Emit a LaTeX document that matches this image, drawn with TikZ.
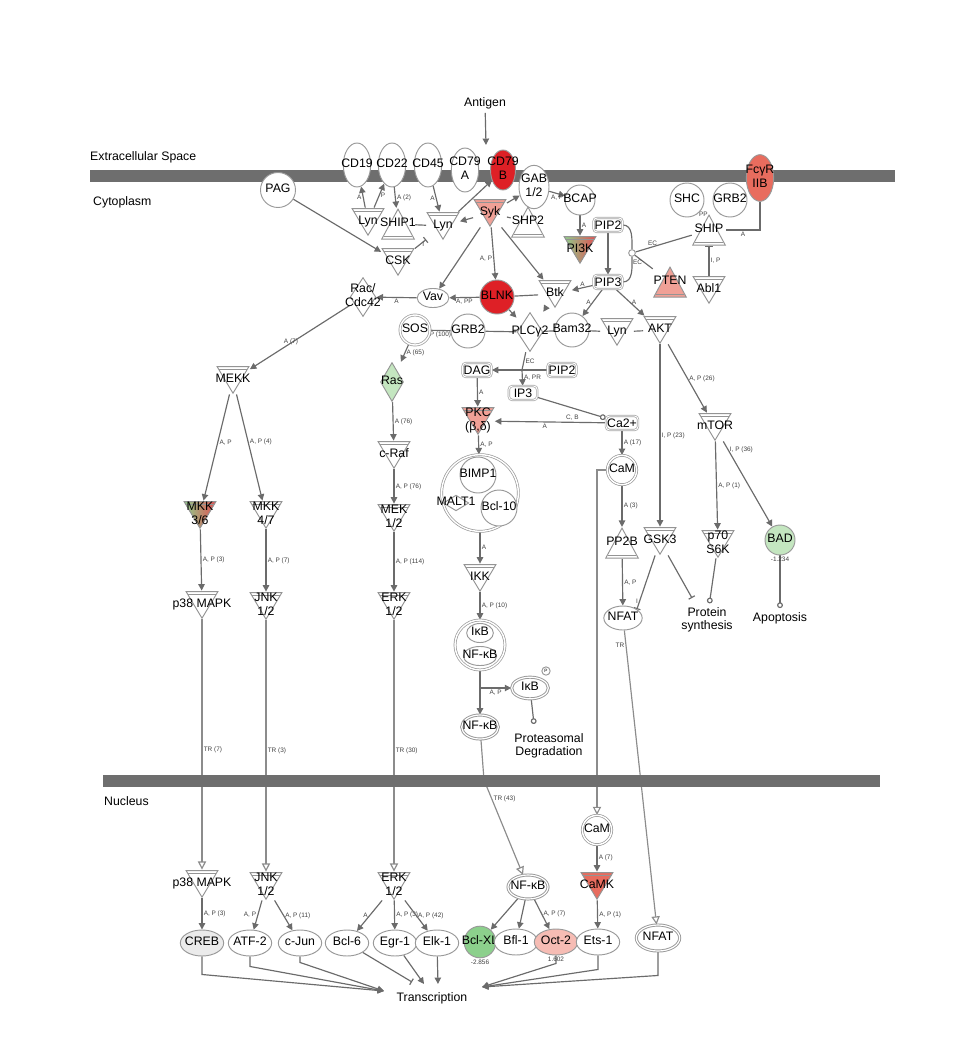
\documentclass[tikz,border=0pt]{standalone}
\usepackage{fontspec}
\setmainfont{Liberation Sans}
\usepackage{tikz}
\usetikzlibrary{arrows.meta,positioning,shapes.geometric,backgrounds}
\definecolor{ipared}{RGB}{222,32,38}
\definecolor{iparose}{RGB}{232,108,94}
\definecolor{ipapink}{RGB}{240,160,150}
\definecolor{ipablush}{RGB}{246,188,180}
\definecolor{ipagreen}{RGB}{140,208,140}
\definecolor{ipamint}{RGB}{196,230,192}
\newcommand{\ctr}[1]{\makebox[0pt]{\begin{tabular}{@{}c@{}}#1\end{tabular}}}

\begin{document}
\begin{tikzpicture}[x=.03cm,y=-.03cm,
  font=\fontsize{10.5}{11.5}\selectfont,
  ipaline/.style={draw=black!42,line width=.8pt},
  membrane/.style={fill=black!57},
  comp/.style={font=\fontsize{10.5}{12}\selectfont,anchor=west,inner sep=0pt},
  elab/.style={font=\fontsize{5.5}{6}\selectfont,text=black!75,inner sep=1pt},
  kinase/.style={rectangle,inner sep=0pt,minimum width=1cm,minimum height=.85cm,
    path picture={
      \filldraw[ipaline,#1] ([xshift=.6pt,yshift=-.6pt]path picture bounding box.north west)
        -- ([xshift=-.6pt,yshift=-.6pt]path picture bounding box.north east)
        -- ([yshift=.8pt]path picture bounding box.south) -- cycle;
      \draw[ipaline] ([xshift=2.5pt,yshift=-3pt]path picture bounding box.north west)
        -- ([xshift=-2.5pt,yshift=-3pt]path picture bounding box.north east);}},
  kinase/.default={fill=white},
  phosph/.style={rectangle,inner sep=0pt,minimum width=1.02cm,minimum height=.95cm,
    path picture={
      \filldraw[ipaline,#1] ([xshift=.6pt,yshift=.6pt]path picture bounding box.south west)
        -- ([xshift=-.6pt,yshift=.6pt]path picture bounding box.south east)
        -- ([yshift=-.8pt]path picture bounding box.north) -- cycle;
      \draw[ipaline] ([xshift=2.5pt,yshift=3pt]path picture bounding box.south west)
        -- ([xshift=-2.5pt,yshift=3pt]path picture bounding box.south east);}},
  phosph/.default={fill=white},
  enzyme/.style={rectangle,inner sep=0pt,minimum width=.8cm,minimum height=1.2cm,
    path picture={
      \filldraw[ipaline,#1] ([yshift=-.6pt]path picture bounding box.north)
        -- ([xshift=-.6pt]path picture bounding box.east)
        -- ([yshift=.6pt]path picture bounding box.south)
        -- ([xshift=.6pt]path picture bounding box.west) -- cycle;}},
  enzyme/.default={fill=white},
  other/.style={circle,draw=black!40,line width=.8pt,#1,minimum size=1.02cm,inner sep=0pt},
  other/.default={fill=white},
  cplx/.style={circle,draw=black!40,line width=.6pt,double=white,double distance=1.2pt,
    fill=white,minimum size=.88cm,inner sep=0pt},
  tfac/.style={ellipse,draw=black!40,line width=.8pt,#1,minimum width=1.3cm,minimum height=.78cm,inner sep=0pt},
  tfac/.default={fill=white},
  recep/.style={ellipse,draw=black!40,line width=.8pt,#1,minimum width=.82cm,minimum height=1.32cm,inner sep=0pt},
  recep/.default={fill=white},
  chem/.style={rectangle,rounded corners=3pt,draw=black!35,line width=.6pt,double=white,
    double distance=.8pt,fill=white,minimum width=.85cm,minimum height=.42cm,inner sep=1pt},
  bind/.style={draw=black!58,line width=1pt},
  act/.style={bind,-{Triangle[length=5.5pt,width=5.5pt]}},
  inhibit/.style={bind,-{Bar[width=6pt]}},
  leads/.style={bind,-{Circle[open,length=5pt,width=5pt]}},
  transloc/.style={draw=black!45,line width=1pt,-{Triangle[open,length=7pt,width=7pt]}}]

\path[use as bounding box] (0,0) rectangle (958,1059);

% compartments
\fill[membrane] (90,170) rectangle (895,182);
\fill[membrane] (103,775) rectangle (880,787);
\node[comp] (exlab) at (90,157) {Extracellular Space};
\node[comp] (cytlab) at (93,202) {Cytoplasm};
\node[comp] (nuclab) at (104,801) {Nucleus};

\node (antigen) at (485,103) {Antigen};
\coordinate (antin) at (486,145);

% receptors at the membrane
\node[recep] (cd19) at (357,165) {\ctr{CD19}};
\node[recep] (cd22) at (392,165) {\ctr{CD22}};
\node[recep] (cd45) at (428,165) {\ctr{CD45}};
\node[recep] (cd79a) at (465,170) {\ctr{CD79\\A}};
\node[recep={fill=ipared},minimum width=.75cm,minimum height=1.2cm] (cd79b) at (503,170) {\ctr{CD79\\B}};
\node[recep,minimum width=.9cm,minimum height=1.3cm] (gab) at (534,187) {\ctr{GAB\\1/2}};
\node[recep={fill=iparose},minimum height=1.4cm] (fcgr) at (760,178) {\ctr{FcγR\\IIB}};

% cytoplasm, upper part
\node[other,minimum size=1.05cm] (pag) at (278,190) {\ctr{PAG}};
\node[kinase] (lyna) at (368,222) {\ctr{Lyn}};
\node[phosph] (ship1) at (398,224) {\ctr{SHIP1}};
\node[kinase] (csk) at (398,262) {\ctr{CSK}};
\node[kinase] (lynb) at (443,226) {\ctr{Lyn}};
\node[kinase={fill=ipapink}] (syk) at (490,213) {\ctr{Syk}};
\node[phosph] (shp2) at (528,222) {\ctr{SHP2}};
\node[other,minimum size=.9cm] (bcap) at (580,200) {\ctr{BCAP}};
\node[chem] (pip2a) at (608,225) {PIP2};
\node[kinase={left color=ipagreen,middle color=ipagreen,right color=ipared!80}] (pi3k) at (580,250) {\ctr{PI3K}};
\node[chem] (pip3) at (608,282) {PIP3};
\node[other,minimum size=.2cm] (ecj) at (632,253) {};
\node[other] (shc) at (687,200) {\ctr{SHC}};
\node[other] (grb2a) at (730,200) {\ctr{GRB2}};
\node[phosph] (ship) at (709,230) {\ctr{SHIP}};
\node[kinase] (abl1) at (709,290) {\ctr{Abl1}};
\node[phosph={fill=ipapink}] (pten) at (670,282) {\ctr{PTEN}};
\node[kinase] (akt) at (660,330) {\ctr{AKT}};
\node[enzyme] (rac) at (363,297) {\ctr{Rac/\\Cdc42}};
\node[tfac,minimum width=.95cm,minimum height=.55cm] (vav) at (433,298) {\ctr{Vav}};
\node[other={fill=ipared}] (blnk) at (497,297) {\ctr{BLNK}};
\node[kinase] (btk) at (555,294) {\ctr{Btk}};
\node[cplx,minimum size=.9cm] (sos) at (415,330) {\ctr{SOS}};
\node[other] (grb2b) at (468,331) {\ctr{GRB2}};
\node[enzyme] (plcg2) at (530,332) {\ctr{PLCγ2}};
\node[other] (bam32) at (572,330) {\ctr{Bam32}};
\node[kinase] (lync) at (617,332) {\ctr{Lyn}};
\node[chem] (dag) at (477,370) {DAG};
\node[chem] (pip2b) at (562,370) {PIP2};
\coordinate (plcj) at (522,370);
\node[chem] (ip3) at (523,393) {IP3};
\node[enzyme={fill=ipamint},minimum width=.72cm] (ras) at (392,382) {\ctr{Ras}};
\node[kinase={fill=ipapink}] (pkc) at (478,421) {\ctr{PKC\\(β,δ)}};
\node[chem] (ca) at (622,423) {Ca2+};
\node[cplx] (cam) at (622,470) {\ctr{CaM}};

% MAPK cascades
\node[kinase] (mekk) at (233,380) {\ctr{MEKK}};
\node[kinase={left color=ipagreen,middle color=ipagreen,right color=ipared!80}] (mkk36) at (200,515) {\ctr{MKK\\3/6}};
\node[kinase] (mkk47) at (266,515) {\ctr{MKK\\4/7}};
\node[kinase] (craf) at (394,455) {\ctr{c-Raf}};
\node[kinase] (mek) at (394,518) {\ctr{MEK\\1/2}};
\node[kinase] (p38) at (202,605) {\ctr{p38 MAPK}};
\node[kinase] (jnk) at (266,606) {\ctr{JNK\\1/2}};
\node[kinase] (erk) at (394,606) {\ctr{ERK\\1/2}};

% NF-kB branch
\node[cplx,minimum size=2.3cm] (bcx) at (480,493) {};
\node[other,minimum size=1.08cm] (bimp1) at (478,475) {\ctr{BIMP1}};
\node[other,minimum size=1.08cm] (bcl10) at (499,508) {\ctr{Bcl-10}};
\node[enzyme,minimum width=.8cm,minimum height=.5cm] (malt1) at (456,503) {\ctr{MALT1}};
\node[kinase] (ikk) at (480,578) {\ctr{IKK}};
\node[cplx,minimum size=1.5cm] (ikbcx) at (480,645) {};
\node[tfac,minimum width=.8cm,minimum height=.45cm] (ikbin) at (480,633) {\ctr{IκB}};
\node[tfac,minimum width=1cm,minimum height=.5cm] (nfkbin) at (480,656) {\ctr{NF-κB}};
\node[tfac,double=white,double distance=1pt,minimum width=1.1cm,minimum height=.65cm] (ikbp) at (530,688) {\ctr{IκB}};
\node[other,minimum size=.25cm,font=\fontsize{4}{4}\selectfont] (phos) at (546,671) {P};
\node[tfac,double=white,double distance=1pt,minimum width=1.1cm,minimum height=.72cm] (nfkb) at (480,727) {\ctr{NF-κB}};
\node[align=center] (pdeg) at (549,746) {Proteasomal\\Degradation};
\coordinate (pdegin) at (534,724);
\coordinate (ikbsplit) at (480,688);
\coordinate (nfkbbend) at (484,780);

% AKT, mTOR, calcium branch
\node[kinase] (mtor) at (715,427) {\ctr{mTOR}};
\node[kinase] (gsk3) at (660,541) {\ctr{GSK3}};
\node[kinase] (p70) at (718,544) {\ctr{p70\\S6K}};
\node[other={fill=ipamint},minimum size=.9cm,label={[elab]below:-1.234}] (bad) at (780,540) {\ctr{BAD}};
\node[phosph] (pp2b) at (622,543) {\ctr{PP2B}};
\node[tfac,minimum width=1.15cm,minimum height=.72cm] (nfat) at (623,618) {\ctr{NFAT}};
\node[align=center] (psyn) at (707,620) {Protein\\synthesis};
\node (apop) at (780,618) {Apoptosis};
\coordinate (psynbar) at (692,598);

% nucleus
\node[kinase] (p38n) at (202,884) {\ctr{p38 MAPK}};
\node[kinase] (jnkn) at (266,886) {\ctr{JNK\\1/2}};
\node[kinase] (erkn) at (394,886) {\ctr{ERK\\1/2}};
\node[cplx] (camn) at (597,830) {\ctr{CaM}};
\node[kinase={fill=iparose}] (camk) at (597,886) {\ctr{CaMK}};
\node[tfac,double=white,double distance=1pt,minimum width=1.2cm,minimum height=.72cm] (nfkbn) at (528,887) {\ctr{NF-κB}};
\node[tfac={fill=black!8}] (creb) at (202,943) {\ctr{CREB}};
\node[tfac] (atf2) at (250,943) {\ctr{ATF-2}};
\node[tfac] (cjun) at (300,943) {\ctr{c-Jun}};
\node[tfac] (bcl6) at (347,943) {\ctr{Bcl-6}};
\node[tfac] (egr1) at (395,943) {\ctr{Egr-1}};
\node[tfac] (elk1) at (437,943) {\ctr{Elk-1}};
\node[other={fill=ipagreen},minimum size=.95cm,label={[elab]below:-2.856}] (bclxl) at (480,942) {\ctr{Bcl-XL}};
\node[tfac] (bfl1) at (516,942) {\ctr{Bfl-1}};
\node[tfac={fill=ipablush},label={[elab]below:1.602}] (oct2) at (556,942) {\ctr{Oct-2}};
\node[tfac] (ets1) at (598,942) {\ctr{Ets-1}};
\node[tfac,double=white,double distance=1pt] (nfatn) at (658,938) {\ctr{NFAT}};
\node (tx) at (432,998) {Transcription};
\coordinate (txl) at (384,991);
\coordinate (txr) at (482,987);
\coordinate (txbar) at (412,982);
\coordinate (txe) at (424,984);
\coordinate (txk) at (438,984);

\begin{pgfonlayer}{background}
\draw[act] (antigen) -- (antin);
\draw[act] (lyna) -- node[elab,left]{A} (cd19);
\draw[act] (lyna) -- node[elab,right]{P} (cd22);
\draw[act] (cd22) -- node[elab,right]{A (2)} (ship1);
\draw[act] (pag) -- (csk);
\draw[inhibit] (csk) -- node[elab,right]{I} (lynb);
\draw[bind] (ship1) -- (lynb);
\draw[act] (cd45) -- node[elab,left]{A} (lynb);
\draw[act] (lynb) -- (cd79b);
\draw[act] (syk) -- (lynb);
\draw[act] (syk) -- (gab);
\draw[act] (gab) -- node[elab,below]{A, P} (bcap);
\draw[act] (bcap) -- node[elab,right]{A} (pi3k);
\draw[bind] (syk) -- (shp2);
\draw[act] (syk) -- node[elab,left,pos=.6]{A, P} (blnk);
\draw[act] (syk) -- (vav);
\draw[act] (syk) -- (btk);
\draw[act] (blnk) -- node[elab,below]{A, PP} (vav);
\draw[act] (vav) -- node[elab,below]{A} (rac);
\draw[bind] (btk) -- (blnk);
\draw[act] (pip3) -- node[elab,above]{A} (btk);
\draw[act] (blnk) -- (plcg2);
\draw[act] (btk) -- (plcg2);
\draw[act] (pip3) -- node[elab,left]{A} (bam32);
\draw[act] (pip3) -- node[elab,right]{A} (akt);
\draw[act] (pip2a) -- (pip3);
\draw[bind] (pip2a.east) to[out=0,in=90] (ecj.north);
\draw[bind] (ecj.south) to[out=-90,in=0] (pip3.east);
\draw[bind] (ship) -- node[elab,above,pos=.7]{EC} (ecj);
\draw[bind] (pten) -- node[elab,left]{EC} (ecj);
\draw[bind] (shc) -- node[elab,right]{PP} (ship);
\draw[bind] (grb2a) -- node[elab,right]{P (7)} (ship);
\draw[bind] (fcgr.south) |- node[elab,below,pos=.75]{A} (ship.east);
\draw[inhibit] (abl1) -- node[elab,right]{I, P} (ship);
\draw[bind] (sos) -- node[elab,below]{P (100)} (grb2b);
\draw[bind] (grb2b) -- (plcg2);
\draw[bind] (plcg2) -- (bam32);
\draw[bind] (bam32) -- (lync);
\draw[bind] (lync) -- (akt);
\draw[bind] (plcg2) -- node[elab,right]{EC} (plcj);
\draw[act] (pip2b) -- (dag);
\draw[act] (plcj) -- node[elab,right]{A, PR} (ip3);
\draw[act] (rac) -- node[elab,below left]{A (7)} (mekk);
\draw[act] (sos) -- node[elab,right]{A (65)} (ras);
\draw[act] (ras) -- node[elab,right]{A (76)} (craf);
\draw[act] (craf) -- node[elab,right]{A, P (76)} (mek);
\draw[act] (mek) -- node[elab,right]{A, P (114)} (erk);
\draw[act] (mekk) -- node[elab,right,pos=.45]{A, P} (mkk36);
\draw[act] (mekk) -- node[elab,right,pos=.45]{A, P (4)} (mkk47);
\draw[act] (mkk36) -- node[elab,right]{A, P (3)} (p38);
\draw[act] (mkk47) -- node[elab,right]{A, P (7)} (jnk);
\draw[act] (dag) -- node[elab,right]{A} (pkc);
\draw[leads] (ip3) -- (ca);
\draw[act] (ca) -- node[elab,above,pos=.3]{C, B} node[elab,below,pos=.55]{A} (pkc);
\draw[act] (ca) -- node[elab,right]{A (17)} (cam);
\draw[act] (pkc) -- node[elab,right]{A, P} (bcx);
\draw[act] (bcx) -- node[elab,right]{A} (ikk);
\draw[act] (ikk) -- node[elab,right]{A, P (10)} (ikbcx);
\draw[act] (ikbcx) -- (nfkb);
\draw[act] (ikbsplit) -- node[elab,below]{A, P} (ikbp);
\draw[leads] (ikbp) -- (pdegin);
\draw[transloc] (nfkb) -- (nfkbbend) -- node[elab,right,pos=.2]{TR (43)} (nfkbn);
\draw[act] (akt) -- node[elab,right,pos=.5]{I, P (23)} (gsk3);
\draw[act] (akt) -- node[elab,right]{A, P (26)} (mtor);
\draw[act] (mtor) -- node[elab,right]{A, P (1)} (p70);
\draw[act] (mtor) -- node[elab,right,pos=.1]{I, P (36)} (bad);
\draw[act] (cam) -- node[elab,right]{A (3)} (pp2b);
\draw[act] (pp2b) -- node[elab,right]{A, P} (nfat);
\draw[inhibit] (gsk3) -- node[elab,left,pos=.85]{I} (nfat.north east);
\draw[inhibit] (gsk3) -- (psynbar);
\draw[leads] (p70) -- (psyn);
\draw[leads] (bad) -- (apop);
\draw[transloc] (cam.west) -- (camn |- cam.west) -- (camn);
\draw[transloc] (nfat) -- node[elab,left,pos=.05]{TR} (nfatn);
\draw[transloc] (p38) -- node[elab,right,pos=.52]{TR (7)} (p38n);
\draw[transloc] (jnk) -- node[elab,right,pos=.52]{TR (3)} (jnkn);
\draw[transloc] (erk) -- node[elab,right,pos=.52]{TR (30)} (erkn);
\draw[act] (camn) -- node[elab,right]{A (7)} (camk);
\draw[act] (camk) -- node[elab,right]{A, P (1)} (ets1);
\draw[act] (p38n) -- node[elab,right]{A, P (3)} (creb);
\draw[act] (jnkn) -- node[elab,left]{A, P} (atf2);
\draw[act] (jnkn) -- node[elab,right]{A, P (11)} (cjun);
\draw[act] (erkn) -- node[elab,left]{A} (bcl6);
\draw[act] (erkn) -- node[elab,right]{A, P (3)} (egr1);
\draw[act] (erkn) -- node[elab,right]{A, P (42)} (elk1);
\draw[act] (nfkbn) -- (bclxl);
\draw[act] (nfkbn) -- (bfl1);
\draw[act] (nfkbn) -- node[elab,right]{A, P (7)} (oct2);
\draw[act] (creb.south) -- ++(0,18) -- (txl);
\draw[act] (atf2.south) -- ++(0,10) -- (txl);
\draw[act] (cjun.south) -- ++(0,6) -- (txl);
\draw[inhibit] (bcl6) -- (txbar);
\draw[act] (egr1) -- (txe);
\draw[act] (elk1) -- (txk);
\draw[act] (oct2.south) -- ++(0,8) -- (txr);
\draw[act] (ets1.south) -- ++(0,14) -- (txr);
\draw[act] (nfatn.south) -- ++(0,24) -- (txr);
\end{pgfonlayer}

\end{tikzpicture}
\end{document}
